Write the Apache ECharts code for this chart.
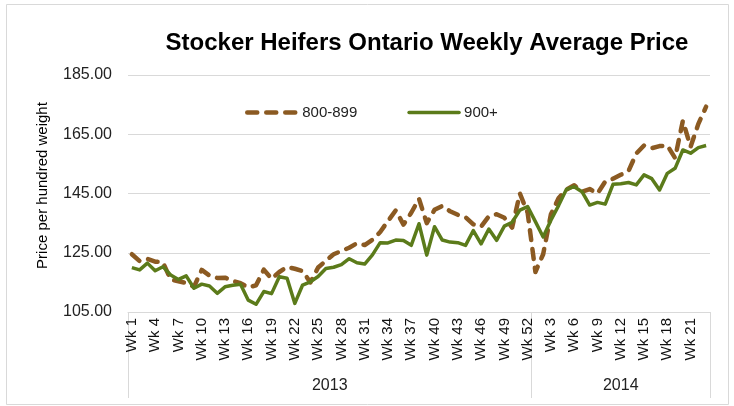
<!DOCTYPE html>
<html>
<head>
<meta charset="utf-8">
<script src="https://cdn.jsdelivr.net/npm/echarts@6/dist/echarts.min.js"></script>
<style>
html,body{margin:0;padding:0;background:#fff;}
#chart{width:734px;height:406px;}
</style>
</head>
<body>
<div id="chart"></div>
<script>
// ---- data ----
const years = ['2013', '2014'];
const weeksPerYear = [52, 23];
const seriesNames = ['800-899', '900+'];
const yTicks = [105, 125, 145, 165, 185];

const heifers800 = [
  124.5, 122.2, 122.9, 122.0, 121.8, 115.9, 115.4, 114.8, 113.5, 119.2,
  117.3, 116.5, 116.6, 115.5, 114.7, 113.3, 114.0, 119.3, 116.2, 118.5,
  120.2, 119.6, 118.8, 115.0, 120.0, 122.3, 124.5, 125.6, 126.7, 128.2,
  127.6, 129.4, 132.0, 135.7, 139.3, 134.5, 138.5, 143.2, 135.0, 139.5,
  140.8, 139.0, 137.8, 137.0, 134.6, 133.8, 137.3, 138.0, 136.8, 133.5,
  145.0, 138.5,
  118.5, 124.5, 138.0, 143.5, 146.3, 147.8, 145.6, 146.5, 145.0, 149.0,
  150.0, 151.3, 152.6, 158.5, 161.2, 160.3, 161.0, 161.2, 157.0, 169.5,
  160.8, 168.5, 174.3
];
const heifers900 = [
  120.0, 119.2, 121.5, 118.9, 120.3, 117.5, 116.0, 117.2, 113.0, 114.4,
  113.8, 111.3, 113.5, 114.0, 114.4, 109.0, 107.6, 111.9, 111.2, 116.9,
  116.4, 107.9, 114.1, 115.2, 117.0, 119.7, 120.1, 121.0, 123.0, 121.6,
  121.2, 124.3, 128.4, 128.3, 129.3, 129.1, 127.5, 134.8, 124.2, 133.8,
  129.3, 128.6, 128.4, 127.5, 132.5, 128.0, 133.0, 129.2, 134.0, 135.3,
  139.4, 140.6,
  135.5, 130.3, 136.0, 141.0, 146.4, 147.3, 145.6, 141.1, 142.0, 141.4,
  148.1, 148.3, 148.7, 147.9, 151.3, 150.0, 146.2, 151.8, 153.5, 159.7,
  158.6, 160.5, 161.2
];

// categories built from the year/week counts
const weekLabels = [];
weeksPerYear.forEach(n => { for (let w = 1; w <= n; w++) weekLabels.push('Wk ' + w); });
const total = weekLabels.length;
const boundaries = [0];
const centers = [];
let acc = 0;
weeksPerYear.forEach(n => { centers.push(acc + n / 2); acc += n; boundaries.push(acc); });

const FONT = "'Liberation Sans', Arial, sans-serif";
const chart = echarts.init(document.getElementById('chart'), null, {renderer: 'canvas'});
chart.setOption({
  animation: false,
  backgroundColor: '#ffffff',
  textStyle: {fontFamily: FONT},
  graphic: [{
    type: 'rect', silent: true,
    shape: {x: 6.5, y: 4.5, width: 722, height: 400},
    style: {fill: 'none', stroke: '#d9d9d9', lineWidth: 1}
  }],
  title: {
    text: 'Stocker Heifers Ontario Weekly Average Price',
    left: 422, top: 26, textAlign: 'center',
    textStyle: {fontFamily: FONT, fontSize: 24, fontWeight: 'bold', color: '#000'}
  },
  legend: {
    left: 240, top: 100,
    itemWidth: 50, itemHeight: 14, itemGap: 50,
    itemStyle: {opacity: 0},
    lineStyle: {width: 'inherit', type: 'inherit', cap: 'round'},
    textStyle: {fontFamily: FONT, fontSize: 15, color: '#222'},
    data: seriesNames
  },
  grid: {left: 128, right: 24, top: 75, bottom: 94},
  xAxis: [{
    type: 'category',
    data: weekLabels,
    boundaryGap: true,
    axisLine: {lineStyle: {color: '#d9d9d9'}},
    axisTick: {show: false},
    axisLabel: {interval: 2, rotate: 90, fontSize: 15, color: '#111', margin: 6, fontFamily: FONT}
  }, {
    type: 'value',
    position: 'bottom',
    min: 0, max: total,
    axisLine: {show: false},
    splitLine: {show: false},
    axisTick: {show: true, customValues: boundaries, length: 86, lineStyle: {color: '#d9d9d9'}},
    axisLabel: {
      customValues: centers,
      formatter: v => years[centers.indexOf(v)],
      margin: 66, fontSize: 16, color: '#222', fontFamily: FONT
    }
  }],
  yAxis: {
    type: 'value',
    min: yTicks[0], max: yTicks[yTicks.length - 1], interval: 20,
    axisLine: {show: false},
    axisTick: {show: false},
    splitLine: {lineStyle: {color: '#d9d9d9'}},
    axisLabel: {formatter: v => v.toFixed(2), fontSize: 16, color: '#222', margin: 16, fontFamily: FONT},
    name: 'Price per hundred weight',
    nameLocation: 'middle', nameGap: 78,
    nameTextStyle: {fontSize: 15, color: '#000', fontFamily: FONT, padding: [0, 0, 0, 16]}
  },
  series: [{
    name: seriesNames[0], type: 'line', xAxisIndex: 0,
    data: heifers800, symbol: 'none', smooth: false,
    lineStyle: {color: '#8B5A22', width: 4.5, type: [10, 9], cap: 'round', join: 'round'},
    itemStyle: {color: '#8B5A22'}
  }, {
    name: seriesNames[1], type: 'line', xAxisIndex: 0,
    data: heifers900, symbol: 'none', smooth: false,
    lineStyle: {color: '#5B7B1A', width: 3.5, join: 'round'},
    itemStyle: {color: '#5B7B1A'}
  }]
});
</script>
</body>
</html>
